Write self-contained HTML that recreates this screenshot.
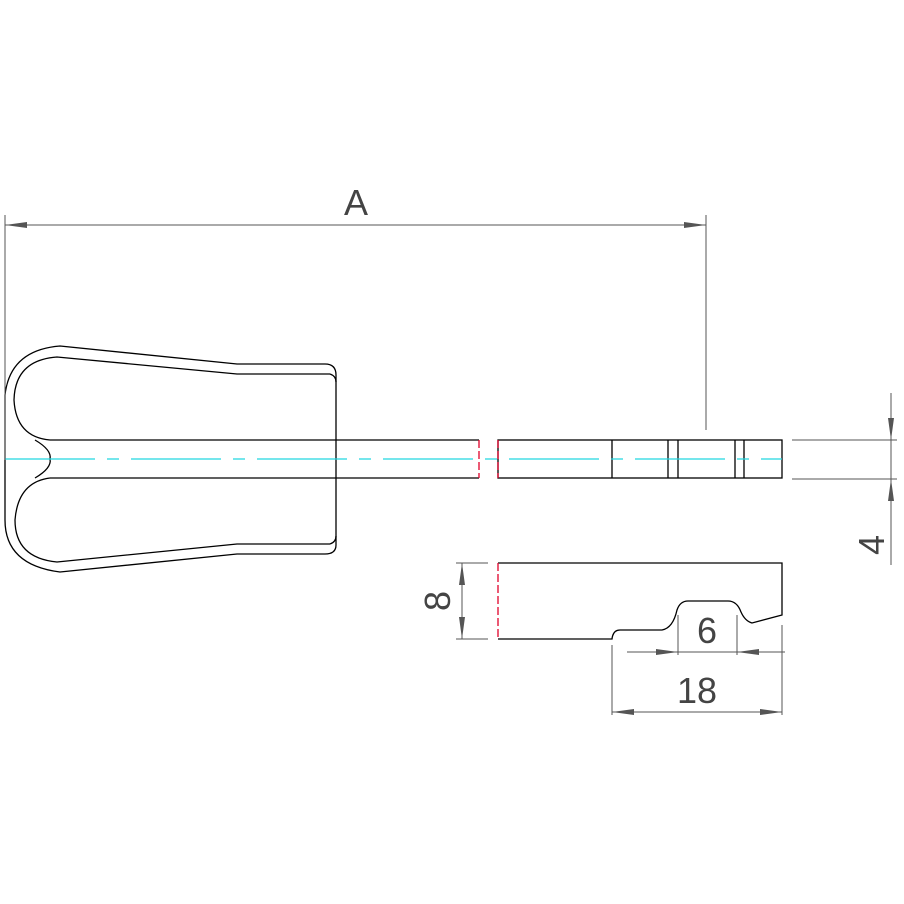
<!DOCTYPE html>
<html><head><style>body{margin:0;background:#fff}svg{display:block}</style></head><body>
<svg width="904" height="904" viewBox="0 0 904 904" xmlns="http://www.w3.org/2000/svg" font-family="Liberation Sans, sans-serif">
<g fill="none" stroke="#000" stroke-width="1.3">
<!-- head outer -->
<path d="M60,346 L237,364 L325,364 Q336,364 336,375 L336,545 Q336,554 325,554 L237,554 L60,572 Q5,565 5,520 L5,395 Q10,350 60,346 Z"/>
<!-- inner loops -->
<path d="M330,374 L237,374 L57,357 Q15,360 14,400 Q16,437 50,440"/>
<path d="M330,544 L237,544 L57,562 Q15,558 15,520 Q18,482 50,478"/>
<path d="M330,374 Q336,376 336,382 M330,544 Q336,542 336,536"/>
<path d="M35,440 Q52,450 50,459 Q52,468 35,478"/>
<!-- shaft -->
<path d="M50,440 L479,440 M50,478 L479,478"/>
<rect x="498" y="440" width="284" height="38"/>
<path d="M612,440V478M668,440V478M678,440V478M735,440V478M744,440V478"/>
<!-- lower part -->
<path d="M498,563 L782,563 L782,615 L752,623 Q745,621 741,612 Q737,601 728,601 L688,601 Q680,601 677,610 Q673,628 662,630 L620,630 Q613,630 612,639 L498,639"/>
</g>
<g stroke="#e0002a" stroke-width="1.3" stroke-dasharray="8,3">
<path d="M479,440V478M498,440V478M498,563V639"/>
</g>
<path d="M5,459 L782,459" stroke="#21d6e0" stroke-width="1.2" stroke-dasharray="90,12,12,12"/>
<g stroke="#555" stroke-width="1" fill="none">
<path d="M5,215 V460 M706,215 V430 M5,225 H706"/>
<path d="M792,440 H897 M792,479 H897 M891,393 V565"/>
<path d="M456,563 H488 M456,639 H488 M462,563 V639"/>
<path d="M678,615 V655 M737,615 V655 M627,652 H785"/>
<path d="M612,645 V715 M782,625 V715 M612,712 H782"/>
</g>
<g fill="#555">
<path d="M5,225 l22,-3 v6 z M706,225 l-22,-3 v6 z"/>
<path d="M891,440 l-3,-22 h6 z M891,479 l-3,22 h6 z"/>
<path d="M462,563 l-3,22 h6 z M462,639 l-3,-22 h6 z"/>
<path d="M678,652 l-22,-3 v6 z M737,652 l22,-3 v6 z"/>
<path d="M612,712 l22,-3 v6 z M782,712 l-22,-3 v6 z"/>
</g>
<g fill="#444" font-size="36" text-anchor="middle">
<text x="356" y="215">A</text>
<text x="707" y="643">6</text>
<text x="697" y="703">18</text>
<text transform="translate(450,601) rotate(-90)" y="0">8</text>
<text transform="translate(884,545) rotate(-90)" y="0">4</text>
</g>
</svg>
</body></html>
